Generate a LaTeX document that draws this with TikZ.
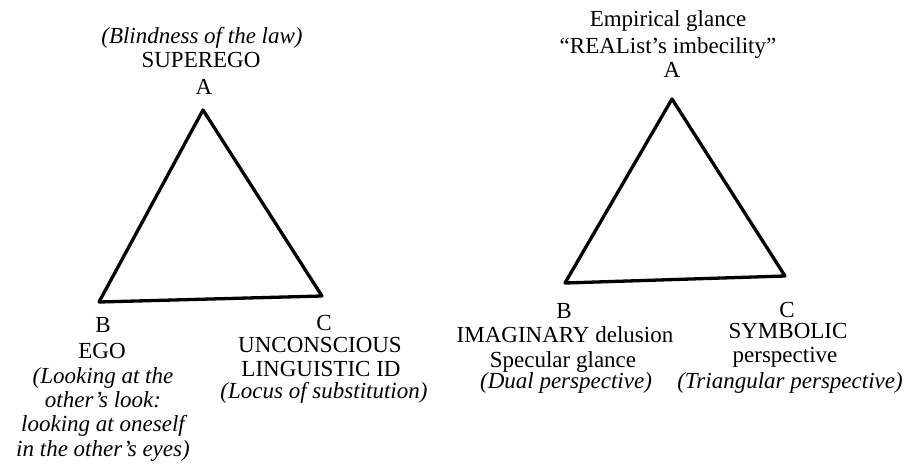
\documentclass[tikz,border=0pt]{standalone}
\usepackage{fontspec}
\setmainfont{Liberation Serif}
\begin{document}
\begin{tikzpicture}[x=1pt,y=-1pt,
  lbl/.style={anchor=base,inner sep=0pt,font=\fontsize{23}{26}\selectfont},
  ilbl/.style={lbl,font=\fontsize{23}{26}\selectfont\itshape},
  tri/.style={draw=black,line width=3.3pt,line join=round}]
\useasboundingbox (0,0) rectangle (911,472);
% left triangle
\coordinate (A1) at (203,110);
\coordinate (B1) at (99,302);
\coordinate (C1) at (322,296);
\draw[tri] (A1) -- (B1) -- (C1) -- cycle;
% right triangle
\coordinate (A2) at (672,99);
\coordinate (B2) at (565,283);
\coordinate (C2) at (785,276);
\draw[tri] (A2) -- (B2) -- (C2) -- cycle;
% left labels
\node[ilbl] (blind) at (202,43) {(Blindness of the law)};
\node[lbl] (superego) at (201,67) {SUPEREGO};
\node[lbl] (lA) at (204,94) {A};
\node[lbl] (lB) at (103,332) {B};
\node[lbl] (ego) at (102,358) {EGO};
\node[ilbl] (look1) at (103,383) {(Looking at the};
\node[ilbl] (look2) at (103,407) {other's look:};
\node[ilbl] (look3) at (103,431) {looking at oneself};
\node[ilbl] (look4) at (103,456) {in the other's eyes)};
\node[lbl] (lC) at (324,330) {C};
\node[lbl] (uncon) at (320,352) {UNCONSCIOUS};
\node[lbl] (ling) at (321,376) {LINGUISTIC ID};
\node[ilbl] (locus) at (324,398) {(Locus of substitution)};
% right labels
\node[lbl] (emp) at (668,26) {Empirical glance};
\node[lbl] (real) at (668,53) {``REAList's imbecility''};
\node[lbl] (rA) at (672,77) {A};
\node[lbl] (rB) at (564,318) {B};
\node[lbl] (imag) at (565,342) {IMAGINARY delusion};
\node[lbl] (spec) at (563,367) {Specular glance};
\node[ilbl] (dual) at (566,388) {(Dual perspective)};
\node[lbl] (rC) at (787,317) {C};
\node[lbl] (symb) at (788,338) {SYMBOLIC};
\node[lbl] (persp) at (785,362) {perspective};
\node[ilbl] (trian) at (790,388) {(Triangular perspective)};
\end{tikzpicture}
\end{document}
